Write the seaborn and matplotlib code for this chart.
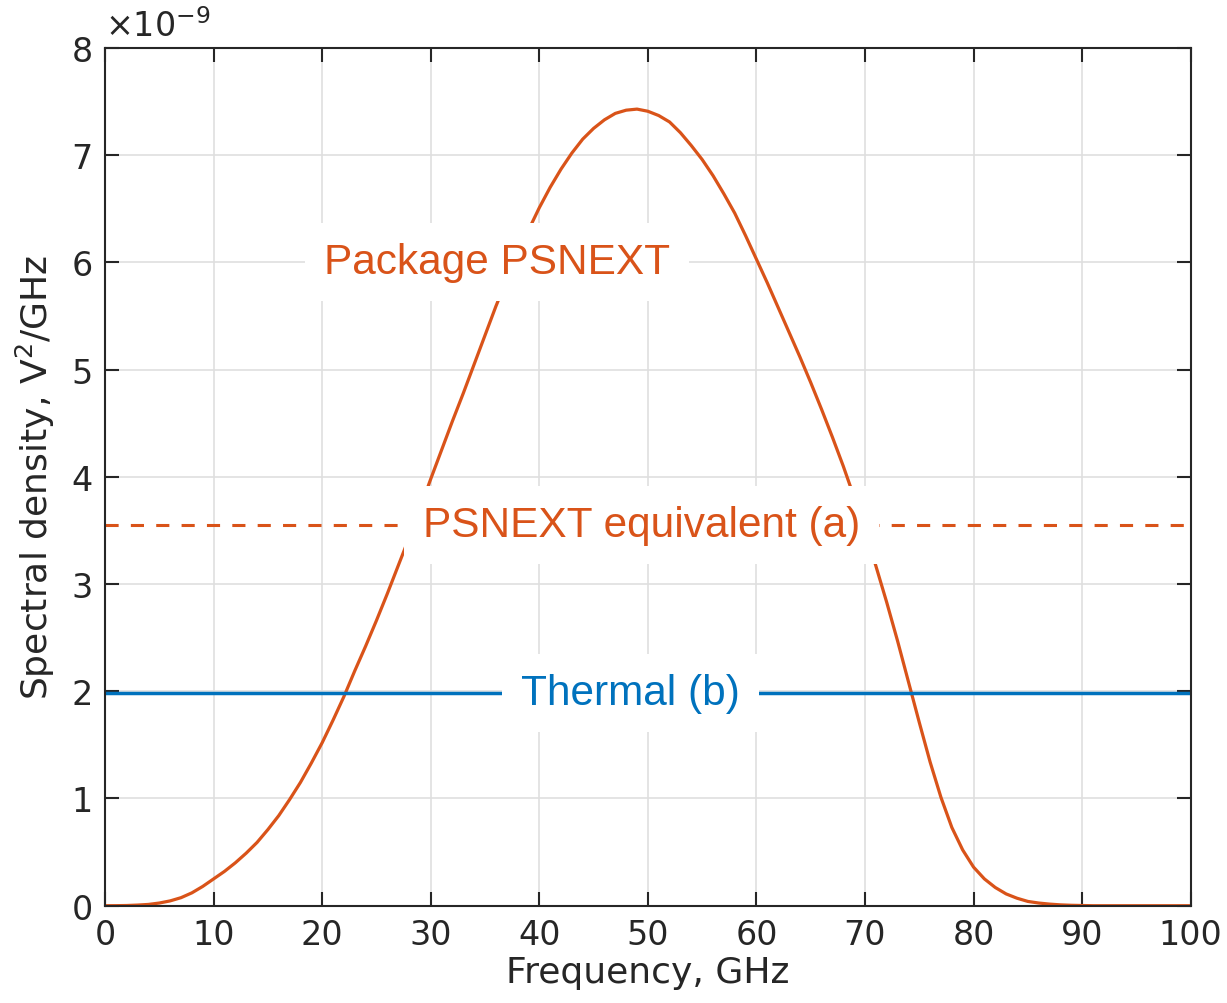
import numpy as np
import pandas as pd
import matplotlib
matplotlib.use("Agg")
import matplotlib.pyplot as plt
import seaborn as sns

# frequency, GHz and spectral density in units of 1e-9 V^2/GHz
freq_ghz = list(range(0, 101))
psnext = [0.0, 0.0005, 0.002, 0.006, 0.012, 0.025, 0.045, 0.075, 0.12, 0.18,
          0.25, 0.32, 0.40, 0.49, 0.59, 0.71, 0.84, 0.99, 1.15, 1.33,
          1.52, 1.73, 1.95, 2.19, 2.42, 2.66, 2.91, 3.17, 3.43, 3.70,
          3.98, 4.25, 4.52, 4.78, 5.05, 5.32, 5.59, 5.84, 6.08, 6.30,
          6.51, 6.70, 6.87, 7.02, 7.15, 7.25, 7.33, 7.39, 7.42, 7.43,
          7.41, 7.37, 7.31, 7.21, 7.09, 6.96, 6.81, 6.64, 6.46, 6.25,
          6.03, 5.81, 5.58, 5.35, 5.12, 4.88, 4.63, 4.37, 4.10, 3.81,
          3.50, 3.17, 2.83, 2.47, 2.09, 1.71, 1.34, 1.01, 0.73, 0.52,
          0.36, 0.25, 0.17, 0.11, 0.07, 0.04, 0.025, 0.015, 0.008, 0.004,
          0.002, 0.0, 0.0, 0.0, 0.0, 0.0, 0.0, 0.0, 0.0, 0.0, 0.0]
psnext_equiv = 3.55
thermal = 1.98

labels = ["Package PSNEXT", "PSNEXT equivalent (a)", "Thermal (b)"]
label_x = [36.1, 49.4, 48.4]
label_y = [6.0, 3.55, 1.98]

orange = "#D95319"
blue = "#0072BD"
dark = "#262626"

sns.set_style("ticks")
plt.rcParams["font.family"] = ["DejaVu Sans"]

df = pd.DataFrame({"f": freq_ghz, "s": psnext})

fig = plt.figure(figsize=(12.27, 10.04), dpi=100)
ax = fig.add_axes([0.0856, 0.0969, 0.8848, 0.8543])

ax.grid(True, color="#dfdfdf", linewidth=1.2, zorder=0)
sns.lineplot(data=df, x="f", y="s", ax=ax, color=orange, linewidth=2.3, zorder=2)
ax.axhline(psnext_equiv, color=orange, linewidth=2.2, dashes=(4.3, 4.0), zorder=2)
ax.axhline(thermal, color=blue, linewidth=2.5, zorder=2)

cols = [orange, orange, blue]
for txt, x, y, c in zip(labels, label_x, label_y, cols):
    ax.text(x, y, txt, color=c, fontsize=30.5, family=["Liberation Sans", "DejaVu Sans"],
            ha="center", va="center", zorder=5,
            bbox=dict(boxstyle="square,pad=0.45", facecolor="white", edgecolor="none"))

ax.set_xlim(0, 100)
ax.set_ylim(0, 8)
ax.set_xticks(range(0, 101, 10))
ax.set_yticks(range(0, 9))
ax.tick_params(direction="in", length=10, width=1.5, colors=dark, labelsize=24,
               top=True, right=True, pad=9)
for sp in ax.spines.values():
    sp.set_color(dark)
    sp.set_linewidth(1.5)
    sp.set_visible(True)

ax.set_xlabel("Frequency, GHz", fontsize=26, color=dark, labelpad=3)
ax.set_ylabel("Spectral density, V$^2$/GHz", fontsize=26, color=dark, labelpad=10)
ax.text(0.0, 1.006, r"$\times$10$^{\mathregular{-9}}$", transform=ax.transAxes,
        fontsize=24, color=dark, ha="left", va="bottom")

fig.savefig("out.png", dpi=100)
